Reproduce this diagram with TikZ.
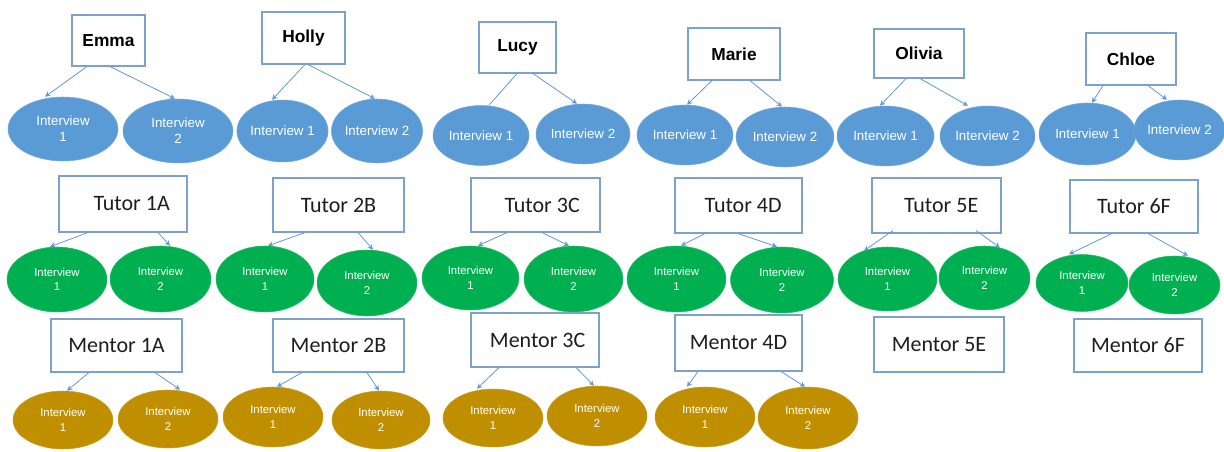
\documentclass[tikz,border=0pt]{standalone}
\usepackage{fontspec}
\usepackage{tikz}
\usetikzlibrary{arrows.meta, shapes.geometric}
\newfontfamily\namefont{Liberation Sans}
\newfontfamily\calfont{Carlito}
\definecolor{boxblue}{RGB}{126,160,206}
\definecolor{linkblue}{RGB}{98,152,214}
\definecolor{ovalblue}{RGB}{91,155,213}
\definecolor{ovalgreen}{RGB}{0,176,80}
\definecolor{ovalgold}{RGB}{191,143,0}
\definecolor{textgrey}{RGB}{30,30,30}
\tikzset{NodeSize/.style 2 args = {minimum width=#1*0.75pt, minimum height=#2*0.75pt}}
\tikzset{NameStyle/.style = {
			      shape          = rectangle,
			      draw           = boxblue,
			      line width     = .8pt,
			      fill           = white,
			      inner sep      = 0pt,
			      font           = \namefont\bfseries\fontsize{13}{15}\selectfont}
						}
\tikzset{RoleStyle/.style = {
			      NameStyle,
			      text           = textgrey,
			      font           = \calfont\fontsize{16.5}{18}\selectfont}
						}
\tikzset{BlueStyle/.style = {
			      shape          = ellipse,
			      fill           = ovalblue,
			      draw           = ovalblue!85!white,
			      text           = white,
			      inner sep      = 0pt,
			      align          = center,
			      font           = \namefont\fontsize{10}{12}\selectfont}
						}
\tikzset{GreenStyle/.style = {BlueStyle, fill = ovalgreen, draw = ovalgreen!85!white,
			      font = \namefont\fontsize{8.5}{11}\selectfont}}
\tikzset{GoldStyle/.style  = {GreenStyle, fill = ovalgold, draw = ovalgold!85!white}}
\tikzset{EdgeStyle/.style  = {draw = linkblue, line width = .6pt, -{Stealth[length=4pt,width=4pt]}}}

\begin{document}
\begin{tikzpicture}[x=0.75pt,y=-0.75pt]
	\useasboundingbox (0,0) rectangle (1224,452);

	% pupils
	\draw (108.5,40.5) node[NameStyle,NodeSize={73}{51}] (emma)   {Emma};
	\draw (303.5,38)   node[NameStyle,NodeSize={83}{52}] (holly)  {Holly};
	\draw (517.5,47.5) node[NameStyle,NodeSize={77}{51}] (lucy)   {Lucy};
	\draw (734,54)     node[NameStyle,NodeSize={92}{52}] (marie)  {Marie};
	\draw (919,53.5)   node[NameStyle,NodeSize={90}{49}] (olivia) {Olivia};
	\draw (1131,59)    node[NameStyle,NodeSize={90}{52}] (chloe)  {Chloe};

	\draw (63,129)     node[BlueStyle,NodeSize={110}{64}] (emmaA)   {Interview\\1};
	\draw (178,131)    node[BlueStyle,NodeSize={110}{64}] (emmaB)   {Interview\\2};
	\draw (282.5,131)  node[BlueStyle,NodeSize={91}{62}]  (hollyA)  {Interview 1};
	\draw (377,131)    node[BlueStyle,NodeSize={88}{64}]  (hollyB)  {Interview 2};
	\draw (481,135.5)  node[BlueStyle,NodeSize={96}{60}]  (lucyA)   {Interview 1};
	\draw (583,134)    node[BlueStyle,NodeSize={94}{60}]  (lucyB)   {Interview 2};
	\draw (685,135)    node[BlueStyle,NodeSize={96}{60}]  (marieA)  {Interview 1};
	\draw (785,137)    node[BlueStyle,NodeSize={98}{60}]  (marieB)  {Interview 2};
	\draw (885.5,136)  node[BlueStyle,NodeSize={97}{60}]  (oliviaA) {Interview 1};
	\draw (987.5,136)  node[BlueStyle,NodeSize={95}{60}]  (oliviaB) {Interview 2};
	\draw (1087.5,134) node[BlueStyle,NodeSize={97}{62}]  (chloeA)  {Interview 1};
	\draw (1179.5,130) node[BlueStyle,NodeSize={83}{60}]  (chloeB)  {Interview 2};

	\draw[EdgeStyle] ([shift={(-21.5,0)}]emma.south)  to ([shift={(-18,0)}]emmaA.north);
	\draw[EdgeStyle] ([shift={(1.5,0)}]emma.south)    to ([shift={(-3,0)}]emmaB.north);
	\draw[EdgeStyle] ([shift={(1.5,0)}]holly.south)   to ([shift={(-10.5,0)}]hollyA.north);
	\draw[EdgeStyle] ([shift={(4.5,0)}]holly.south)   to ([shift={(-2,0)}]hollyB.north);
	\draw[EdgeStyle,-] ([shift={(-0.5,0)}]lucy.south) to ([shift={(8,0)}]lucyA.north);
	\draw[EdgeStyle] ([shift={(15.5,0)}]lucy.south)   to ([shift={(-6,0)}]lucyB.north);
	\draw[EdgeStyle] ([shift={(-22,0)}]marie.south)   to ([shift={(2,0)}]marieA.north);
	\draw[EdgeStyle] ([shift={(16,0)}]marie.south)    to ([shift={(-3,0)}]marieB.north);
	\draw[EdgeStyle] ([shift={(-13,0)}]olivia.south)  to ([shift={(-5.5,0)}]oliviaA.north);
	\draw[EdgeStyle] ([shift={(1,0)}]olivia.south)    to ([shift={(-19.5,0)}]oliviaB.north);
	\draw[EdgeStyle] ([shift={(-28,0)}]chloe.south)   to ([shift={(4.5,0)}]chloeA.north);
	\draw[EdgeStyle] ([shift={(17,0)}]chloe.south)    to ([shift={(-12.5,0)}]chloeB.north);

	% tutors
	\draw (123,204)    node[RoleStyle,NodeSize={128}{56}] (tutorA) {\hspace{13pt}Tutor 1A};
	\draw (338.5,205)  node[RoleStyle,NodeSize={131}{54}] (tutorB) {Tutor 2B};
	\draw (535.5,205)  node[RoleStyle,NodeSize={129}{54}] (tutorC) {\hspace{10pt}Tutor 3C};
	\draw (738.5,205.5) node[RoleStyle,NodeSize={127}{55}] (tutorD) {\hspace{7pt}Tutor 4D};
	\draw (936.5,205.5) node[RoleStyle,NodeSize={129}{55}] (tutorE) {\hspace{7pt}Tutor 5E};
	\draw (1134,206.5) node[RoleStyle,NodeSize={128}{53}] (tutorF) {Tutor 6F};

	\draw (57,279.5)   node[GreenStyle,NodeSize={100}{65}] (tutorA1) {Interview\\1};
	\draw (160.5,279)  node[GreenStyle,NodeSize={101}{66}] (tutorA2) {Interview\\2};
	\draw (265,279)    node[GreenStyle,NodeSize={98}{66}]  (tutorB1) {Interview\\1};
	\draw (367,283)    node[GreenStyle,NodeSize={100}{66}] (tutorB2) {Interview\\2};
	\draw (470.5,278)  node[GreenStyle,NodeSize={97}{64}]  (tutorC1) {Interview\\1};
	\draw (573.5,279)  node[GreenStyle,NodeSize={99}{66}]  (tutorC2) {Interview\\2};
	\draw (676.5,279)  node[GreenStyle,NodeSize={99}{66}]  (tutorD1) {Interview\\1};
	\draw (782,280)    node[GreenStyle,NodeSize={103}{66}] (tutorD2) {Interview\\2};
	\draw (887.5,279)  node[GreenStyle,NodeSize={99}{64}]  (tutorE1) {Interview\\1};
	\draw (984.5,278)  node[GreenStyle,NodeSize={91}{64}]  (tutorE2) {Interview\\2};
	\draw (1082,283)   node[GreenStyle,NodeSize={92}{57}]  (tutorF1) {Interview\\1};
	\draw (1174.5,285) node[GreenStyle,NodeSize={91}{58}]  (tutorF2) {Interview\\2};

	\draw[EdgeStyle] ([shift={(-35,0)}]tutorA.south)   to ([shift={(-7,0)}]tutorA1.north);
	\draw[EdgeStyle] ([shift={(35,0)}]tutorA.south)    to ([shift={(9.5,0)}]tutorA2.north);
	\draw[EdgeStyle] ([shift={(-33.5,0)}]tutorB.south) to ([shift={(3,0)}]tutorB1.north);
	\draw[EdgeStyle] ([shift={(19.5,0)}]tutorB.south)  to ([shift={(6,0)}]tutorB2.north);
	\draw[EdgeStyle] ([shift={(-28.5,0)}]tutorC.south) to ([shift={(7.5,0)}]tutorC1.north);
	\draw[EdgeStyle] ([shift={(6.5,0)}]tutorC.south)   to ([shift={(-4.5,0)}]tutorC2.north);
	\draw[EdgeStyle] ([shift={(-33.5,0)}]tutorD.south) to ([shift={(4.5,0)}]tutorD1.north);
	\draw[EdgeStyle] ([shift={(-0.5,0)}]tutorD.south)  to ([shift={(-5,0)}]tutorD2.north);
	\draw[EdgeStyle] ([shift={(-43.5,-3)}]tutorE.south) to ([shift={(-23.5,4)}]tutorE1.north);
	\draw[EdgeStyle] ([shift={(39.5,-3)}]tutorE.south)  to ([shift={(15.5,2)}]tutorE2.north);
	\draw[EdgeStyle] ([shift={(-22,0)}]tutorF.south)   to ([shift={(-13,0)}]tutorF1.north);
	\draw[EdgeStyle] ([shift={(14,0)}]tutorF.south)    to ([shift={(13.5,0)}]tutorF2.north);

	% mentors
	\draw (116.5,345.5) node[RoleStyle,NodeSize={131}{53}] (mentorA) {Mentor 1A};
	\draw (338.5,345.5) node[RoleStyle,NodeSize={131}{53}] (mentorB) {Mentor 2B};
	\draw (535,340)     node[RoleStyle,NodeSize={128}{54}] (mentorC) {\hspace{4pt}Mentor 3C};
	\draw (738.5,343)   node[RoleStyle,NodeSize={127}{56}] (mentorD) {Mentor 4D};
	\draw (939,344.5)   node[RoleStyle,NodeSize={130}{55}] (mentorE) {Mentor 5E};
	\draw (1138,345.5)  node[RoleStyle,NodeSize={128}{53}] (mentorF) {Mentor 6F};

	\draw (63,420)   node[GoldStyle,NodeSize={100}{58}] (mentorA1) {Interview\\1};
	\draw (168,419)  node[GoldStyle,NodeSize={100}{58}] (mentorA2) {Interview\\2};
	\draw (273,417)  node[GoldStyle,NodeSize={100}{60}] (mentorB1) {Interview\\1};
	\draw (381,420)  node[GoldStyle,NodeSize={98}{58}]  (mentorB2) {Interview\\2};
	\draw (493,418)  node[GoldStyle,NodeSize={100}{58}] (mentorC1) {Interview\\1};
	\draw (597,416)  node[GoldStyle,NodeSize={100}{60}] (mentorC2) {Interview\\2};
	\draw (705,417)  node[GoldStyle,NodeSize={100}{60}] (mentorD1) {Interview\\1};
	\draw (808,418)  node[GoldStyle,NodeSize={100}{62}] (mentorD2) {Interview\\2};

	\draw[EdgeStyle] ([shift={(-27.5,0)}]mentorA.south) to ([shift={(4,0)}]mentorA1.north);
	\draw[EdgeStyle] ([shift={(38.5,0)}]mentorA.south)  to ([shift={(12,0)}]mentorA2.north);
	\draw[EdgeStyle] ([shift={(-36.5,0)}]mentorB.south) to ([shift={(4,0)}]mentorB1.north);
	\draw[EdgeStyle] ([shift={(28.5,0)}]mentorB.south)  to ([shift={(-2,0)}]mentorB2.north);
	\draw[EdgeStyle] ([shift={(-36,0)}]mentorC.south)   to ([shift={(-16,0)}]mentorC1.north);
	\draw[EdgeStyle] ([shift={(41,0)}]mentorC.south)    to ([shift={(-3,0)}]mentorC2.north);
	\draw[EdgeStyle] ([shift={(-40.5,0)}]mentorD.south) to ([shift={(-18,0)}]mentorD1.north);
	\draw[EdgeStyle] ([shift={(42.5,0)}]mentorD.south)  to ([shift={(-3,0)}]mentorD2.north);

\end{tikzpicture}
\end{document}
